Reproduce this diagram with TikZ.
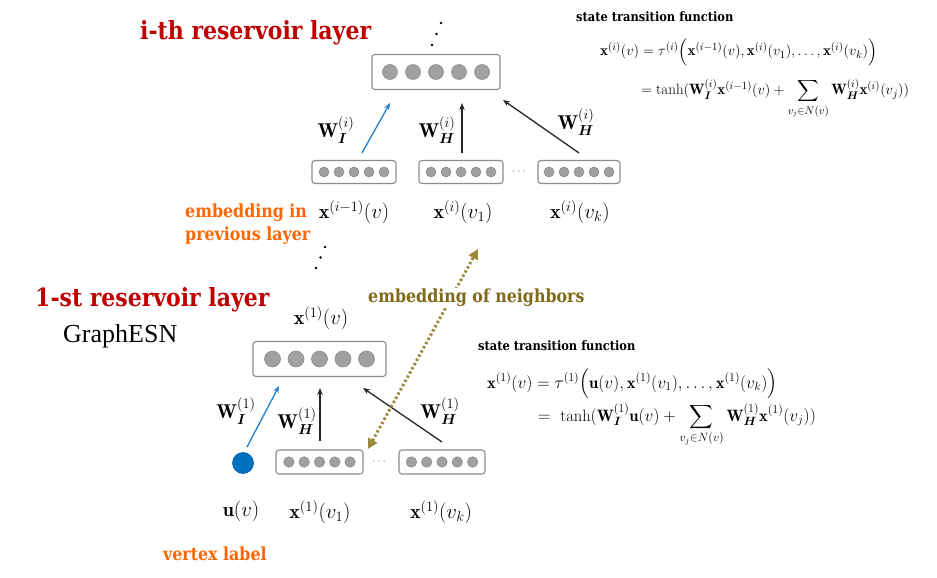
\documentclass[tikz,border=0pt]{standalone}
\usepackage{amsmath,amssymb}
\usepackage{fontspec}
\usetikzlibrary{arrows.meta,calc}
\newfontfamily\slab{DejaVu Serif}[FakeStretch=0.88]
\newfontfamily\graphfont{Liberation Serif}
\definecolor{darkred}{HTML}{C00000}
\definecolor{orng}{HTML}{FF6600}
\definecolor{olivetxt}{HTML}{7F6A1A}
\definecolor{olivearr}{HTML}{9C8A3C}
\definecolor{arrblue}{HTML}{2080D0}
\definecolor{nodeblue}{HTML}{0070C0}
\definecolor{cellgray}{HTML}{A0A0A0}
\definecolor{boxgray}{HTML}{8C8C8C}
\newcommand\cellrow[7]{%
  \node[vecbox, minimum width=#4pt, minimum height=#5pt] (#1) at (#2,#3) {};
  \foreach \k [count=\n] in {-2,...,2}{\node[cell, minimum size=#6pt] (#1c\n) at ($(#1.center)+(\k*#7,0)$) {};}
}
\tikzset{
  vecbox/.style={draw=boxgray, line width=1.1pt, rounded corners=3pt, fill=white, inner sep=0pt},
  cell/.style={circle, fill=cellgray, draw=boxgray, line width=0.6pt, inner sep=0pt},
  arr/.style={-{Stealth[length=7pt,width=5.5pt]}, line width=1.3pt, draw=black!85},
  bluearr/.style={arr, draw=arrblue},
  lbl/.style={font=\fontsize{20}{22}\selectfont, inner sep=0pt},
  wlbl/.style={font=\fontsize{20}{22}\selectfont, inner sep=0pt},
  eqf/.style={font=\fontsize{15}{17}\selectfont, inner sep=0pt, anchor=base west},
  eqfb/.style={font=\fontsize{16.5}{18}\selectfont, inner sep=0pt, anchor=base west},
  title/.style={font=\slab\bfseries\fontsize{25}{28}\selectfont, text=darkred, inner sep=0pt, anchor=west},
  note/.style={font=\slab\bfseries\fontsize{18}{23}\selectfont, text=orng, inner sep=0pt, anchor=west, align=left},
  stf/.style={font=\slab\bfseries\fontsize{13}{15}\selectfont, inner sep=0pt, anchor=base west},
  dotsn/.style={font=\fontsize{12}{12}\selectfont, text=gray, inner sep=0pt},
}
\begin{document}
\begin{tikzpicture}[x=1pt,y=-1pt]
\fill[white] (0,0) rectangle (937,578);
\path[use as bounding box] (0,0) rectangle (937,578);

% ---------- i-th layer ----------
\node[title] (ttop) at (140,33) {i-th reservoir layer};
\fill (441,23) circle (1.3pt) (436.5,34) circle (1.3pt) (432,45) circle (1.3pt);

\cellrow{topbig}{436}{72}{128}{35}{15}{23}
\cellrow{tb1}{354}{172}{84}{23}{10}{15}
\cellrow{tb2}{461}{172}{84}{23}{10}{15}
\cellrow{tb3}{579}{172}{82}{23}{10}{15}
\node[dotsn] (tdots) at (520,172) {$\cdots$};

\coordinate (ta1) at (362,153); \coordinate (ta2) at (390,103);
\coordinate (tb1s) at (462,153); \coordinate (tb1e) at (462,103);
\coordinate (tc1) at (579,153); \coordinate (tc2) at (503,100);
\draw[bluearr] (ta1) -- (ta2);
\draw[arr] (tb1s) -- (tb1e);
\draw[arr] (tc1) -- (tc2);
\node[wlbl] (wti) at (336,130) {$\mathbf{W}_{\boldsymbol{I}}^{(i)}$};
\node[wlbl] (wth1) at (437,130) {$\mathbf{W}_{\boldsymbol{H}}^{(i)}$};
\node[wlbl] (wth2) at (576,122) {$\mathbf{W}_{\boldsymbol{H}}^{(i)}$};

\node[lbl] (lt1) at (354,212) {$\mathbf{x}^{(i-1)}(v)$};
\node[lbl] (lt2) at (463,212) {$\mathbf{x}^{(i)}(v_1)$};
\node[lbl] (lt3) at (580,212) {$\mathbf{x}^{(i)}(v_k)$};

\node[note] (prev) at (185,224) {embedding in\\previous layer};
\fill (325,247) circle (1.3pt) (320.5,257.5) circle (1.3pt) (316,268) circle (1.3pt);

\node[stf] (stf1) at (576,22) {state transition function};
\node[eqf] (eq1a) at (600,56) {$\mathbf{x}^{(i)}(v) = \tau^{(i)}\Big(\mathbf{x}^{(i-1)}(v),\mathbf{x}^{(i)}(v_1),\dots,\mathbf{x}^{(i)}(v_k)\Big)$};
\node[eqf] (eq1b) at (641,95) {$=\tanh(\mathbf{W}_{\boldsymbol{I}}^{(i)}\mathbf{x}^{(i-1)}(v)+\displaystyle\sum_{v_j\in N(v)}\mathbf{W}_{\boldsymbol{H}}^{(i)}\mathbf{x}^{(i)}(v_j))$};

% ---------- 1-st layer ----------
\node[title] (tbot) at (35,300) {1-st reservoir layer};
\node[font=\graphfont\fontsize{26}{28}\selectfont, inner sep=0pt, anchor=west] (gesn) at (63,336) {GraphESN};

\node[lbl] (lb0) at (321,318) {$\mathbf{x}^{(1)}(v)$};
\cellrow{botbig}{319.5}{359}{133}{35}{16}{23.5}
\cellrow{bb1}{319.5}{462}{87}{24}{10.5}{15.3}
\cellrow{bb2}{442}{462}{86}{24}{10.5}{15.3}
\node[dotsn] (bdots) at (380,462) {$\cdots$};
\node[circle, fill=nodeblue, draw=nodeblue!80!black, line width=0.6pt, minimum size=21pt, inner sep=0pt] (uv) at (243,463) {};

\coordinate (ba1) at (247,447); \coordinate (ba2) at (279,386);
\coordinate (bb1s) at (320,441); \coordinate (bb1e) at (320,388);
\coordinate (bc1) at (442,442); \coordinate (bc2) at (363,388);
\draw[bluearr] (ba1) -- (ba2);
\draw[arr] (bb1s) -- (bb1e);
\draw[arr] (bc1) -- (bc2);
\node[wlbl] (wbi) at (236,411) {$\mathbf{W}_{\boldsymbol{I}}^{(1)}$};
\node[wlbl] (wbh1) at (297,421) {$\mathbf{W}_{\boldsymbol{H}}^{(1)}$};
\node[wlbl] (wbh2) at (440,411) {$\mathbf{W}_{\boldsymbol{H}}^{(1)}$};

\node[lbl] (lbu) at (241,511) {$\mathbf{u}(v)$};
\node[lbl] (lb1) at (320,512) {$\mathbf{x}^{(1)}(v_1)$};
\node[lbl] (lb2) at (441,512) {$\mathbf{x}^{(1)}(v_k)$};
\node[note] (vlab) at (163,554) {vertex label};

% neighbours dotted arrow
\coordinate (nb1) at (368,449); \coordinate (nb2) at (478,249);
\draw[draw=olivearr, line width=3pt, dash pattern=on 2.4pt off 2.4pt,
  {Triangle[length=10pt,width=10pt,fill=olivearr]}-{Triangle[length=10pt,width=10pt,fill=olivearr]}] (nb1) -- (nb2);
\node[note, text=olivetxt, fill=white, inner sep=1pt] (nbtxt) at (367,298) {embedding of neighbors};

\node[stf] (stf2) at (478,350) {state transition function};
\node[eqfb] (eq2a) at (487,388) {$\mathbf{x}^{(1)}(v) = \tau^{(1)}\Big(\mathbf{u}(v),\mathbf{x}^{(1)}(v_1),\dots,\mathbf{x}^{(1)}(v_k)\Big)$};
\node[eqfb] (eq2b) at (538,421) {$=\ \tanh(\mathbf{W}_{\boldsymbol{I}}^{(1)}\mathbf{u}(v)+\displaystyle\sum_{v_j\in N(v)}\mathbf{W}_{\boldsymbol{H}}^{(1)}\mathbf{x}^{(1)}(v_j))$};
\end{tikzpicture}
\end{document}
